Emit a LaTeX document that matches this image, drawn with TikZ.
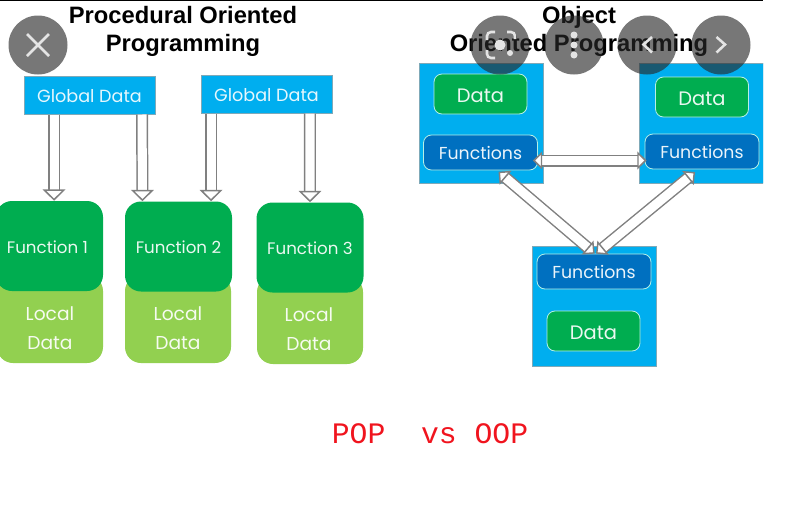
\documentclass[tikz,border=0pt]{standalone}
\usepackage{fontspec}
\setmainfont{Poppins}
\newfontfamily\titlefont{Liberation Sans}
\newfontfamily\redfont{Liberation Mono}
\usetikzlibrary{arrows.meta}

\tikzset{
  bigtip/.tip={Triangle[open,fill=white,length=8.5pt,width=17pt,line width=1.1pt]},
  smalltip/.tip={Triangle[open,fill=white,length=7pt,width=13.5pt,line width=1.1pt]},
  blockarrow/.style={draw=gray,line width=1.1pt,double=white,double distance=6.8pt},
  globalbox/.style={rectangle,fill=skyblue,draw=skyedge,line width=0.75pt,minimum width=98.25pt,minimum height=28.5pt,inner sep=0pt,text height=11.3pt,text depth=0pt,text=white!90!skyblue,font=\fontsize{13.2}{15}\selectfont},
  funcbox/.style={rectangle,rounded corners=12pt,fill=darkgreen,minimum width=80.25pt,minimum height=67.5pt,inner sep=0pt,text height=11pt,text depth=0pt,text=white!92!darkgreen,font=\fontsize{12.5}{15}\selectfont},
  localbox/.style={rectangle,rounded corners=12pt,fill=lightgreen,minimum width=79.5pt,minimum height=66pt,inner sep=0pt},
  localtxt/.style={align=center,inner sep=0pt,text=white!92!lightgreen,font=\fontsize{14}{21.75}\selectfont},
  objbox/.style={rectangle,fill=skyblue,draw=skyedge,line width=0.75pt,minimum width=93pt,minimum height=90pt,inner sep=0pt},
  databox/.style={rectangle,rounded corners=6pt,fill=darkgreen,draw=paleedge,line width=0.6pt,minimum width=69.75pt,minimum height=30pt,inner sep=0pt,text height=12.5pt,text depth=0pt,text=white!92!darkgreen,font=\fontsize{14.6}{17}\selectfont},
  methbox/.style={rectangle,rounded corners=6pt,fill=midblue,draw=paleedge,line width=0.6pt,minimum width=85.5pt,minimum height=26.25pt,inner sep=0pt,text height=11pt,text depth=0pt,text=white!92!midblue,font=\fontsize{13}{15}\selectfont},
  heading/.style={align=center,inner sep=0pt,font=\titlefont\bfseries\fontsize{17.8}{21}\selectfont},
  ctrl/.style={circle,fill=ctrlgray,fill opacity=0.63,minimum size=44.25pt,inner sep=0pt},
  glyph/.style={draw=ctrlmark,line width=1.9pt},
}
\definecolor{skyblue}{HTML}{00AEEF}
\definecolor{skyedge}{HTML}{7FA9B8}
\definecolor{darkgreen}{HTML}{00AD50}
\definecolor{lightgreen}{HTML}{92D050}
\definecolor{midblue}{HTML}{0070C0}
\definecolor{paleedge}{HTML}{B5EFE6}
\definecolor{ctrlgray}{HTML}{282828}
\definecolor{ctrlmark}{HTML}{E4E4E4}
\definecolor{redtext}{HTML}{F0141E}

\begin{document}
\begin{tikzpicture}[x=0.75pt,y=-0.75pt]

\path [use as bounding box] (0,0) rectangle (811,507);
\clip (0,0) rectangle (763,507);

\draw [line width=1.5pt] (0,0) -- (763,0);

\node [heading] (pophead) at (183,31) {Procedural Oriented\\Programming};
\node [heading] (oophead) at (579,31) {Object\\Oriented Programming};

\node [globalbox] (gd1) at (89.5,95) {Global Data};
\node [globalbox] (gd2) at (266.5,94) {Global Data};

\node [localbox] (lb1) at (50,319) {};
\node [localbox] (lb2) at (178,319) {};
\node [localbox] (lb3) at (310,320) {};
\node [localtxt] (lt1) at (50,328) {Local\\Data};
\node [localtxt] (lt2) at (178,328) {Local\\Data};
\node [localtxt] (lt3) at (309,329) {Local\\Data};

\node [funcbox] (fn1) at (49.5,246) {\hspace{-3pt}Function 1};
\node [funcbox] (fn2) at (178.5,246.5) {Function 2};
\node [funcbox] (fn3) at (310,247.5) {Function 3};

\draw [blockarrow,-bigtip] ([xshift=-26.6pt]gd1.south) -- ([xshift=3.4pt]fn1.north);
\draw [blockarrow,-bigtip] ([xshift=39.4pt]gd1.south) -- ([xshift=-27pt]fn2.north);
\draw [blockarrow,-bigtip] ([xshift=-41.6pt]gd2.south) -- ([xshift=24.4pt]fn2.north);
\draw [blockarrow,-bigtip] ([xshift=32.6pt]gd2.south) -- (fn3.north);

\node [objbox] (ob1) at (481,123) {};
\node [objbox] (ob2) at (701.5,123) {};
\node [objbox] (ob3) at (594,306.5) {};

\node [databox] (da1) at (480.5,94) {Data};
\node [databox] (da2) at (702,97) {Data};
\node [databox] (da3) at (593.5,331) {Data};
\node [methbox] (me1) at (480.5,152.5) {Functions};
\node [methbox] (me2) at (702,151.5) {Functions};
\node [methbox] (me3) at (594,271.5) {Functions};

\draw [blockarrow,smalltip-smalltip] ([xshift=-3.75pt,yshift=-6pt]me1.east) -- ([xshift=1.5pt,yshift=-6.75pt]me2.west);
\draw [blockarrow,smalltip-smalltip] ([xshift=13.5pt,yshift=-1pt]me1.south) -- ([xshift=0.5pt]me3.north);
\draw [blockarrow,smalltip-smalltip] ([xshift=-5.2pt,yshift=-2pt]me2.south) -- ([xshift=1.5pt]me3.north);

\node [font=\redfont\fontsize{22.3}{26}\selectfont,text=redtext,inner sep=0pt] (title) at (430,434) {POP\ \ vs OOP};

\foreach \cx/\nm in {38/close,500/lens,574/menu,647/prev,721/next}
  \node [ctrl] (\nm) at (\cx,45) {};

\draw [glyph] (27,34) -- (49,56);
\draw [glyph] (49,34) -- (27,56);

\draw [glyph,rounded corners=3pt] (487,40) -- (487,32) -- (495,32);
\draw [glyph,rounded corners=3pt] (507,32) -- (515,32) -- (515,39);
\draw [glyph,rounded corners=3pt] (487,50) -- (487,58) -- (495,58);
\fill [ctrlmark] (500,45) circle [radius=5.5];
\fill [ctrlmark] (510,53) circle [radius=3];

\fill [ctrlmark] (574,35) circle [radius=3.5];
\fill [ctrlmark] (574,45) circle [radius=3.5];
\fill [ctrlmark] (574,55) circle [radius=3.5];

\draw [glyph] (652,37) -- (643.5,44.5) -- (652,52.5);
\draw [glyph] (716.5,37) -- (725,44.5) -- (716.5,52.5);

\end{tikzpicture}
\end{document}
